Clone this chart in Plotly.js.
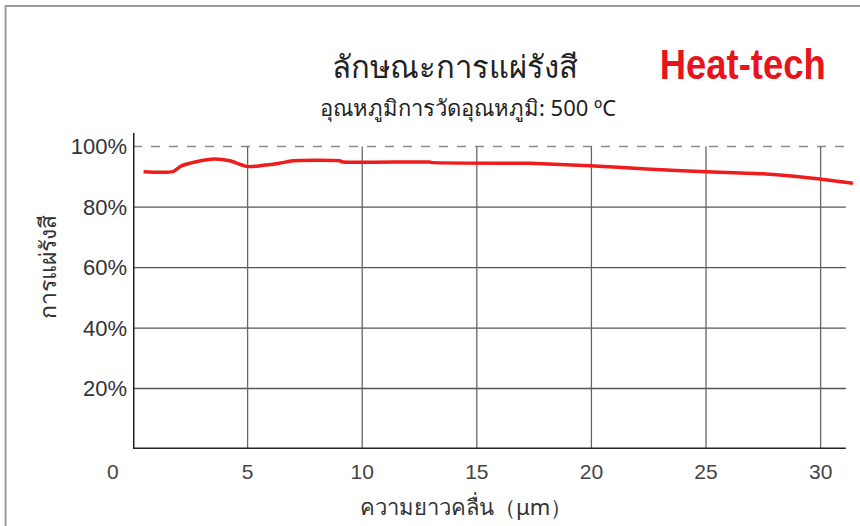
<!DOCTYPE html>
<html><head><meta charset="utf-8">
<script src="https://cdn.plot.ly/plotly-3.0.1.min.js"></script>
<style>html,body{margin:0;padding:0;background:#fff;}#chart{width:860px;height:526px;}</style>
</head><body><div id="chart"></div>
<script>
// Data
const wavelength = [0.46, 1.16, 1.74, 2.11, 2.76, 3.56, 4.22, 5.01, 5.67, 6.39, 6.98, 9.01, 9.16, 12.94, 13.08, 16.43, 17.30, 19.92, 22.40, 25.01, 27.48, 28.94, 29.96, 31.41];
const emissivity = [91.7, 91.5, 91.7, 93.6, 95.0, 95.9, 95.3, 93.4, 93.8, 94.5, 95.3, 95.3, 94.9, 94.9, 94.7, 94.5, 94.5, 93.7, 92.6, 91.7, 91.0, 90.1, 89.3, 87.9];
const xTicks = [5, 10, 15, 20, 25, 30];
const yTicks = [20, 40, 60, 80, 100];
const yTickLabels = ['20%', '40%', '60%', '80%', '100%'];

const titleText = 'ลักษณะการแผ่รังสี';
const subtitleText = 'อุณหภูมิการวัดอุณหภูมิ: 500 ºC';
const brandText = 'Heat-tech';
const xTitle = 'ความยาวคลื่น（μm）';
const yTitle = 'การแผ่รังสี';

const X_END = 31.1, Y_TOP = 104.5;
const PX = p => (p - 133.4) / 722;   // pixel -> paper x
const PY = p => (449 - p) / 316;     // pixel -> paper y
const shapes = [];
// frame
shapes.push({type:'path', xref:'paper', yref:'paper', path:'M -0.1765 -0.3 L -0.1765 1.402 L 1.2 1.402', line:{color:'#9a9a9a', width:2}, layer:'below'});
// horizontal grid
yTicks.forEach(v => {
  if (v === 100) {
    shapes.push({type:'line', xref:'x', yref:'y', x0:0, x1:X_END, y0:v, y1:v, line:{color:'#8a8a8a', width:1.5, dash:'dash'}, layer:'below'});
  } else {
    shapes.push({type:'line', xref:'x', yref:'y', x0:0, x1:X_END, y0:v, y1:v, line:{color:'#555', width:1.3}, layer:'below'});
  }
});
// vertical grid
xTicks.forEach(v => {
  shapes.push({type:'line', xref:'x', yref:'y', x0:v, x1:v, y0:0, y1:100, line:{color:'#666', width:1.3}, layer:'below'});
});
// axis lines
shapes.push({type:'line', xref:'x', yref:'y', x0:0, x1:0, y0:0, y1:Y_TOP, line:{color:'#222', width:3}});
shapes.push({type:'line', xref:'x', yref:'y', x0:0, x1:X_END, y0:0, y1:0, line:{color:'#222', width:3}});

const tickFont = {family:'Liberation Sans, Arial, sans-serif', size:21, color:'#444'};
const annotations = [
  {text:titleText, xref:'paper', yref:'paper', x:PX(455), y:PY(66), showarrow:false, xanchor:'center', yanchor:'middle', font:{family:'Noto Sans, sans-serif', size:31, color:'#222'}},
  {text:subtitleText, xref:'paper', yref:'paper', x:PX(468), y:PY(107), showarrow:false, xanchor:'center', yanchor:'middle', font:{family:'Noto Sans, sans-serif', size:22, color:'#222'}},
  {text:'<b>'+brandText+'</b>', xref:'paper', yref:'paper', x:PX(743), y:PY(65), showarrow:false, xanchor:'center', yanchor:'middle', font:{family:'Liberation Sans, Arial, sans-serif', size:42, color:'#e8141c'}, name:'brand'},
  {text:xTitle, xref:'paper', yref:'paper', x:PX(466), y:PY(506), showarrow:false, xanchor:'center', yanchor:'middle', font:{family:'Noto Sans, sans-serif', size:22, color:'#333'}},
  {text:yTitle, xref:'paper', yref:'paper', x:PX(47), y:PY(267), showarrow:false, textangle:-90, xanchor:'center', yanchor:'middle', font:{family:'Noto Sans, sans-serif', size:23, color:'#333'}},
  {text:'0', xref:'paper', yref:'paper', x:PX(113), y:PY(471), showarrow:false, xanchor:'center', yanchor:'middle', font:tickFont}
];

const trace = {x:wavelength, y:emissivity, type:'scatter', mode:'lines', line:{color:'#ee1c1c', width:3.5, shape:'spline', smoothing:0.6}, hoverinfo:'x+y'};

const layout = {
  width:860, height:526,
  margin:{l:133.4, r:4.6, t:133, b:77, pad:0},
  paper_bgcolor:'#fff', plot_bgcolor:'rgba(0,0,0,0)',
  showlegend:false,
  xaxis:{range:[0,31.5], showgrid:false, zeroline:false, showline:false, ticks:'', tickvals:xTicks, ticktext:xTicks.map(String), tickfont:tickFont, ticklabelstandoff:8, fixedrange:true},
  yaxis:{range:[0,Y_TOP], showgrid:false, zeroline:false, showline:false, ticks:'', tickvals:yTicks, ticktext:yTickLabels, tickfont:{family:'Liberation Sans, Arial, sans-serif', size:22, color:'#333'}, ticklabelstandoff:5, fixedrange:true},
  shapes:shapes,
  annotations:annotations
};
Plotly.newPlot('chart', [trace], layout, {displayModeBar:false, staticPlot:true}).then(gd => {
  // condense the brand wordmark horizontally
  gd.querySelectorAll('.annotation-text').forEach(t => {
    if (t.textContent === brandText) {
      t.setAttribute('textLength', '166');
      t.setAttribute('lengthAdjust', 'spacingAndGlyphs');
    }
  });
});
</script></body></html>
